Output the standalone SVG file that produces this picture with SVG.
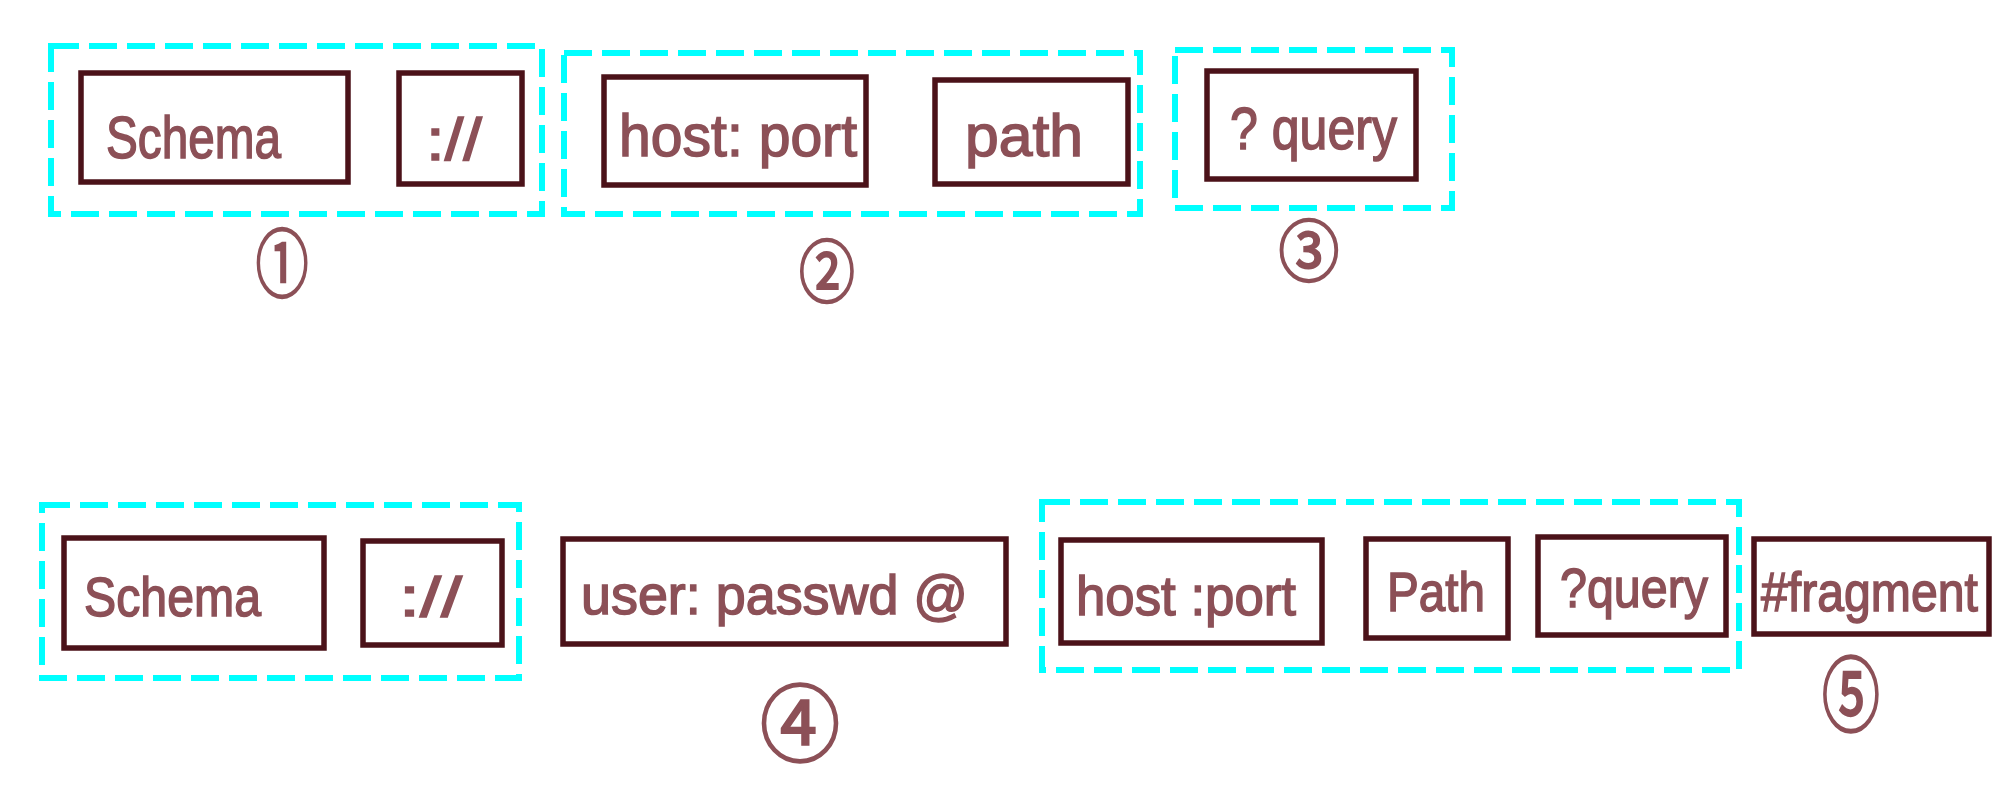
<svg xmlns="http://www.w3.org/2000/svg" width="2011" height="786" viewBox="0 0 2011 786">
<style>
.grp{fill:none;stroke:#00ffff;stroke-width:6;stroke-dasharray:28 10}
.box{fill:none;stroke:#4b1219;stroke-width:5.5}
.t{fill:#8c5057;font-family:"Liberation Sans","DejaVu Sans",sans-serif;stroke:#8c5057;stroke-width:1.5}
.n{fill:#8c5057;font-family:"Noto Sans CJK SC","DejaVu Sans",sans-serif;stroke:#8c5057;stroke-width:2;text-anchor:middle}
</style>
<rect width="2011" height="786" fill="#ffffff"/>
<g id="groups">
<rect id="g1" class="grp" x="51" y="46" width="491" height="168"/>
<rect id="g2" class="grp" x="564" y="53" width="576" height="161"/>
<rect id="g3" class="grp" x="1175" y="50" width="277" height="158"/>
<rect id="g4" class="grp" x="42" y="505" width="477" height="173"/>
<rect id="g5" class="grp" x="1042" y="502" width="697" height="168"/>
</g>
<g id="n-schema1"><rect class="box" x="81" y="73" width="267" height="109"/><text class="t" x="106" y="158" font-size="60" textLength="175" lengthAdjust="spacingAndGlyphs">Schema</text></g>
<g id="n-sep1"><rect class="box" x="399" y="73" width="123" height="111"/><text class="t" x="426" y="160" font-size="60" textLength="56" lengthAdjust="spacingAndGlyphs">://</text></g>
<g id="n-hostport1"><rect class="box" x="604" y="77" width="262" height="108"/><text class="t" x="619" y="156" font-size="60" textLength="238" lengthAdjust="spacingAndGlyphs">host: port</text></g>
<g id="n-path1"><rect class="box" x="935" y="80" width="193" height="104"/><text class="t" x="965" y="156" font-size="60" textLength="118" lengthAdjust="spacingAndGlyphs">path</text></g>
<g id="n-query1"><rect class="box" x="1207" y="71" width="209" height="108"/><text class="t" x="1230" y="149" font-size="60" textLength="167" lengthAdjust="spacingAndGlyphs">? query</text></g>
<g id="n-c1"><text class="n" transform="translate(282 265) scale(0.85 1.2)" x="0" y="22" font-size="62">①</text></g>
<g id="n-c2"><text class="n" transform="translate(827 273) scale(0.9 1.1)" x="0" y="22" font-size="62">②</text></g>
<g id="n-c3"><text class="n" transform="translate(1309 253) scale(0.95 1.05)" x="0" y="22" font-size="64">③</text></g>
<g id="n-schema2"><rect class="box" x="64" y="538" width="260" height="110"/><text class="t" x="84" y="616" font-size="56" textLength="177" lengthAdjust="spacingAndGlyphs">Schema</text></g>
<g id="n-sep2"><rect class="box" x="363" y="541" width="139" height="104"/><text class="t" x="399" y="616" font-size="56" textLength="63" lengthAdjust="spacingAndGlyphs">://</text></g>
<g id="n-user"><rect class="box" x="563" y="539" width="443" height="105"/><text class="t" x="581" y="614" font-size="56" textLength="387" lengthAdjust="spacingAndGlyphs">user: passwd @</text></g>
<g id="n-hostport2"><rect class="box" x="1061" y="540" width="261" height="103"/><text class="t" x="1076" y="615" font-size="56" textLength="220" lengthAdjust="spacingAndGlyphs">host :port</text></g>
<g id="n-path2"><rect class="box" x="1366" y="539" width="142" height="99"/><text class="t" x="1387" y="611" font-size="56" textLength="98" lengthAdjust="spacingAndGlyphs">Path</text></g>
<g id="n-query2"><rect class="box" x="1538" y="537" width="188" height="98"/><text class="t" x="1560" y="607" font-size="56" textLength="148" lengthAdjust="spacingAndGlyphs">?query</text></g>
<g id="n-fragment"><rect class="box" x="1754" y="539" width="235" height="95"/><text class="t" x="1761" y="611" font-size="56" textLength="217" lengthAdjust="spacingAndGlyphs">#fragment</text></g>
<g id="n-c4"><text class="n" transform="translate(800 726) scale(1 1.05)" x="0" y="28" font-size="80">④</text></g>
<g id="n-c5"><text class="n" transform="translate(1851 696) scale(0.85 1.2)" x="0" y="24" font-size="68">⑤</text></g>
<g id="connectors"></g>
</svg>
